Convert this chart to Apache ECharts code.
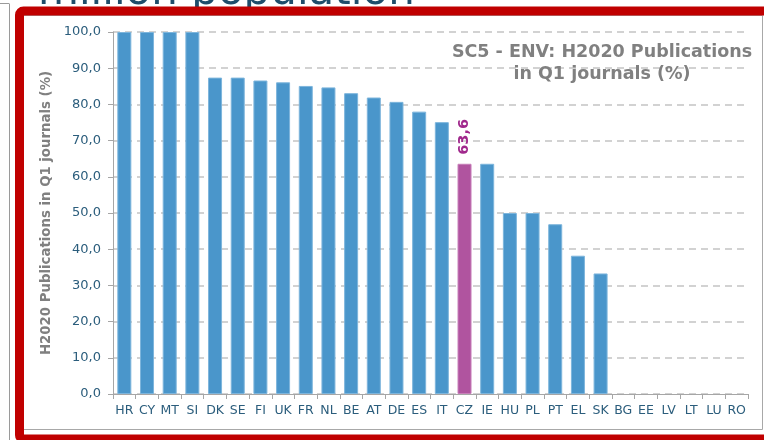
<!DOCTYPE html>
<html>
<head>
<meta charset="utf-8">
<script src="https://cdn.jsdelivr.net/npm/echarts@6/dist/echarts.min.js"></script>
<style>
html,body{margin:0;padding:0;background:#fff;}
#c{width:764px;height:440px;}
</style>
</head>
<body>
<div id="c"></div>
<script>
const categories = ['HR','CY','MT','SI','DK','SE','FI','UK','FR','NL','BE','AT','DE','ES','IT','CZ','IE','HU','PL','PT','EL','SK','BG','EE','LV','LT','LU','RO'];
const values = [100.0,100.0,100.0,100.0,87.4,87.4,86.6,86.1,85.1,84.7,83.1,81.9,80.7,78.0,75.1,63.6,63.6,50.0,50.0,46.9,38.2,33.3,0,0,0,0,0,0];
const highlightCountry = 'CZ';
const yTicks = [0,10,20,30,40,50,60,70,80,90,100];
const chartTitle = 'SC5 - ENV: H2020 Publications\nin Q1 journals (%)';
const yAxisName = 'H2020 Publications in Q1 journals (%)';
const slideTitle = 'million population';

const blue = '#4a96cb';
const purple = '#b0549f';
const labelColor = '#2b5d7c';
const font = 'DejaVu Sans, Verdana, sans-serif';

const chart = echarts.init(document.getElementById('c'), null, {renderer:'canvas'});
const data = values.map((v,i) => {
  const isHi = categories[i] === highlightCountry;
  return {
    value: v,
    itemStyle: { color: isHi ? purple : blue, borderColor: isHi ? '#c77fb9' : '#7db5dc', borderWidth: v > 0 ? 1 : 0 },
    label: isHi ? {
      show: true, position: 'top', rotate: 90, distance: 9,
      align: 'left', verticalAlign: 'middle',
      formatter: (p) => p.value.toFixed(1).replace('.', ','),
      color: '#a0288c', fontWeight: 'bold', fontSize: 14.5, fontFamily: font
    } : { show: false }
  };
});

chart.setOption({
  animation: false,
  backgroundColor: '#ffffff',
  title: {
    text: chartTitle,
    left: 597, top: 36, textAlign: 'center',
    textStyle: { color: '#808080', fontSize: 17.5, fontWeight: 'bold', fontFamily: font, lineHeight: 22 }
  },
  grid: { left: 113, right: 16, top: 32, bottom: 46, containLabel: false },
  xAxis: {
    type: 'category',
    data: categories,
    axisLine: { show: true, lineStyle: { color: '#a6a6a6', width: 1 } },
    axisTick: { show: true, alignWithLabel: false, length: 5, lineStyle: { color: '#a6a6a6' } },
    axisLabel: { color: labelColor, fontSize: 12.5, fontFamily: font, margin: 10, interval: 0 },
    splitLine: { show: false }
  },
  yAxis: {
    type: 'value',
    min: yTicks[0], max: yTicks[yTicks.length-1], interval: 10,
    name: yAxisName,
    nameLocation: 'middle',
    nameGap: 58,
    nameRotate: 90,
    nameTextStyle: { color: '#808080', fontWeight: 'bold', fontSize: 13.3, fontFamily: font },
    axisLine: { show: true, lineStyle: { color: '#a6a6a6', width: 1 } },
    axisTick: { show: true, length: 5, lineStyle: { color: '#a6a6a6' } },
    axisLabel: { color: labelColor, fontSize: 13, fontFamily: font, margin: 12,
      formatter: (v) => v.toFixed(1).replace('.', ',') },
    splitLine: { show: true, lineStyle: { color: '#c4c4c4', type: [7, 5], width: 1.5 } }
  },
  series: [{
    type: 'bar',
    data: data,
    barWidth: 14
  }],
  graphic: [
    { type: 'text', left: 38, top: -28, z: 1,
      style: { text: slideTitle, fill: '#1e4d6b', font: '42px ' + font } },
    { type: 'line', shape: { x1: 9.5, y1: 4, x2: 9.5, y2: 440 }, style: { stroke: '#9a9a9a', lineWidth: 1 }, z: 5 },
    { type: 'line', shape: { x1: 0, y1: 3.5, x2: 9.5, y2: 3.5 }, style: { stroke: '#9a9a9a', lineWidth: 1 }, z: 5 },
    { type: 'rect', shape: { x: 23.5, y: 15.5, width: 739, height: 414 }, style: { fill: 'none', stroke: '#a8a8a8', lineWidth: 1 }, z: 5 },
    { type: 'rect', shape: { x: 19.5, y: 11, width: 760, height: 428, r: 4 }, style: { fill: 'none', stroke: '#c00000', lineWidth: 9 }, z: 10 }
  ]
});
</script>
</body>
</html>
